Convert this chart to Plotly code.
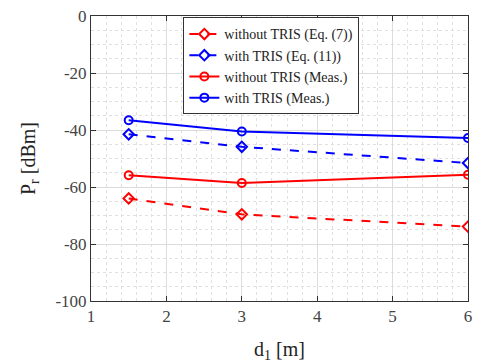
import plotly.graph_objects as go

d1 = [1.5, 3, 6]
eq_without = [-64.0, -69.6, -73.9]
eq_with = [-41.5, -45.9, -51.6]
meas_without = [-55.9, -58.6, -55.7]
meas_with = [-36.6, -40.5, -42.8]

names = ["without TRIS (Eq. (7))", "with TRIS (Eq. (11))",
         "without TRIS (Meas.)", "with TRIS (Meas.)"]

x_ticks = [1, 2, 3, 4, 5, 6]
y_ticks = [-100, -80, -60, -40, -20, 0]
y_tick_labels = ["-100", "-80", "-60", "-40", "-20", "0"]

fig = go.Figure()
series = [
    (eq_without, names[0], "red", "dash", "diamond-open"),
    (eq_with, names[1], "blue", "dash", "diamond-open"),
    (meas_without, names[2], "red", "solid", "circle-open"),
    (meas_with, names[3], "blue", "solid", "circle-open"),
]
for ys, nm, col, dash, sym in series:
    fig.add_trace(go.Scatter(
        x=d1, y=ys, name=nm, mode="lines+markers",
        line=dict(color=col, width=2, dash=dash),
        marker=dict(symbol=sym, size=8, color=col, line=dict(width=2, color=col)),
    ))

font = "Liberation Serif"
axis_common = dict(
    showline=True, linecolor="#333", linewidth=1, mirror="ticks",
    ticks="inside", ticklen=5, tickcolor="#333",
    showgrid=True, gridcolor="#dcdcdc", gridwidth=1,
    zeroline=False,
    tickfont=dict(family=font, size=17, color="#444"),
)
fig.update_xaxes(
    range=[1, 6], tickvals=x_ticks, ticktext=[str(v) for v in x_ticks],
    minor=dict(dtick=0.2, showgrid=True, gridcolor="#e0e0e0", griddash="dot", ticks=""),
    title=dict(text="d<sub>1</sub> [m]", font=dict(family=font, size=20, color="#222"), standoff=16),
    **axis_common,
)
fig.update_yaxes(
    range=[-100, 0], tickvals=y_ticks, ticktext=y_tick_labels,
    minor=dict(dtick=5, showgrid=True, gridcolor="#e0e0e0", griddash="dot", ticks=""),
    title=dict(text="P<sub>r</sub> [dBm]", font=dict(family=font, size=20, color="#222"), standoff=14),
    **axis_common,
)
fig.update_layout(
    width=479, height=363,
    margin=dict(l=91, r=7, t=15, b=60),
    paper_bgcolor="white", plot_bgcolor="white",
    font=dict(family=font),
    legend=dict(
        x=0.245, y=0.995, xanchor="left", yanchor="top",
        bgcolor="white", bordercolor="#333", borderwidth=1,
        font=dict(family=font, size=14, color="#222"),
        tracegroupgap=0, itemwidth=30,
    ),
    showlegend=True,
)
fig.write_html("out.html")
